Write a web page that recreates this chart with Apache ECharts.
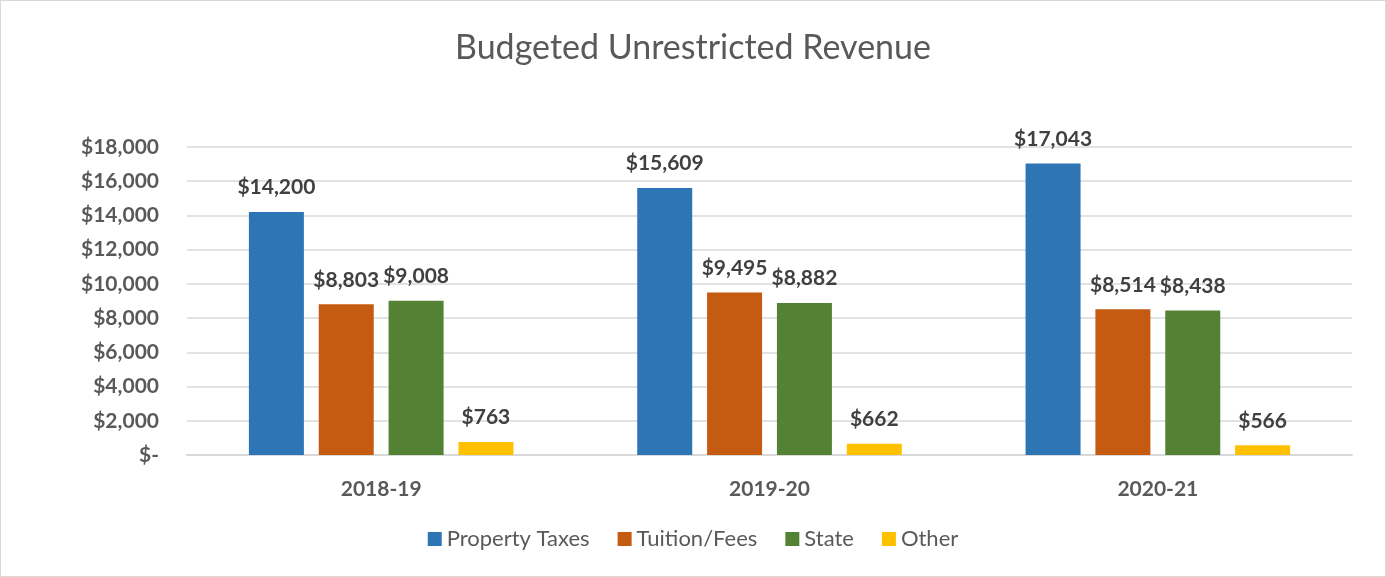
<!DOCTYPE html>
<html>
<head>
    <meta charset="utf-8" />
    <title>Budgeted Unrestricted Revenue</title>
    <script type="text/javascript" src="https://cdn.jsdelivr.net/npm/echarts@6/dist/echarts.min.js"></script>
    <style>
        html, body { margin: 0; padding: 0; background: #fff; }
        #con1 {
            width: 1384px;
            height: 575px;
            border: 1px solid #d9d9d9;
        }
    </style>
</head>
<body>
    <div id="con1"></div>
    <script type="text/javascript">
        var years = ["2018-19", "2019-20", "2020-21"];
        var propertyTaxes = [14200, 15609, 17043];
        var tuitionFees = [8803, 9495, 8514];
        var stateRev = [9008, 8882, 8438];
        var otherRev = [763, 662, 566];
        var yTicks = [0, 2000, 4000, 6000, 8000, 10000, 12000, 14000, 16000, 18000];

        var font = "Lato, 'Open Sans', sans-serif";

        function money(v) {
            if (v === 0) return "$-";
            return "$" + v.toLocaleString("en-US");
        }

        function bar(name, data, color) {
            return {
                name: name,
                type: "bar",
                data: data,
                barWidth: 55,
                barGap: "27%",
                itemStyle: { color: color },
                label: {
                    show: true,
                    position: "top",
                    distance: 14,
                    formatter: function (p) { return money(p.value); },
                    fontFamily: font,
                    fontWeight: "bold",
                    fontSize: 21,
                    color: "#404040"
                }
            };
        }

        var myChart1 = echarts.init(document.getElementById("con1"));
        var option1 = {
            animation: false,
            backgroundColor: "#ffffff",
            title: {
                text: "Budgeted Unrestricted Revenue",
                left: "center",
                top: 25,
                textStyle: {
                    fontFamily: font,
                    fontWeight: "normal",
                    fontSize: 34,
                    color: "#595959"
                }
            },
            legend: {
                bottom: 21,
                left: "center",
                itemWidth: 14,
                itemHeight: 14,
                itemGap: 28,
                icon: "rect",
                textStyle: {
                    fontFamily: font,
                    fontSize: 22,
                    color: "#595959"
                },
                data: ["Property Taxes", "Tuition/Fees", "State", "Other"]
            },
            grid: {
                left: 186,
                right: 33,
                top: 146,
                bottom: 121,
                containLabel: false
            },
            xAxis: {
                type: "category",
                data: years,
                axisTick: { show: false },
                axisLine: { lineStyle: { color: "#d9d9d9", width: 2 } },
                axisLabel: {
                    margin: 24,
                    fontFamily: font,
                    fontWeight: "bold",
                    fontSize: 21,
                    color: "#595959"
                }
            },
            yAxis: {
                type: "value",
                min: yTicks[0],
                max: yTicks[yTicks.length - 1],
                interval: 2000,
                axisLine: { show: false },
                axisTick: { show: false },
                splitLine: { lineStyle: { color: "#d9d9d9", width: 1.5 } },
                axisLabel: {
                    margin: 28,
                    fontFamily: font,
                    fontWeight: "bold",
                    fontSize: 21,
                    color: "#595959",
                    formatter: money
                }
            },
            series: [
                bar("Property Taxes", propertyTaxes, "#2e75b6"),
                bar("Tuition/Fees", tuitionFees, "#c55a11"),
                bar("State", stateRev, "#548235"),
                bar("Other", otherRev, "#ffc000")
            ]
        };
        option1 && myChart1.setOption(option1);
    </script>
</body>
</html>
